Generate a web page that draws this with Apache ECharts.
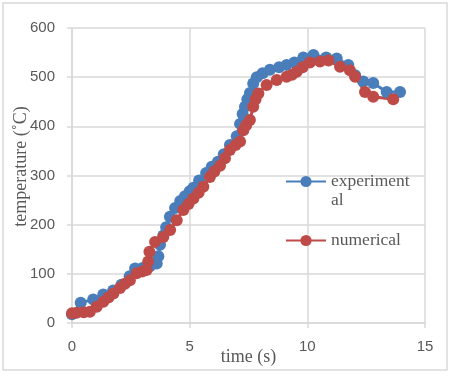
<!DOCTYPE html>
<html>
<head>
<meta charset="utf-8">
<script src="https://cdn.jsdelivr.net/npm/echarts@6/dist/echarts.min.js"></script>
<style>
  html, body { margin: 0; padding: 0; background: #fff; }
  #chart { width: 454px; height: 378px; }
</style>
</head>
<body>
<div id="chart"></div>
<script>
  /** Data */
  var experimentalPoints = [
    [0, 18], [0.37, 41], [0.9, 48], [1.33, 58], [1.75, 66], [2.1, 78], [2.45, 95], [2.68, 111],
    [3.0, 112], [3.3, 115], [3.6, 121], [3.67, 136], [3.74, 159], [3.88, 178], [4.0, 195],
    [4.16, 216], [4.38, 234], [4.6, 248], [4.8, 258], [5.0, 268], [5.16, 275], [5.4, 290],
    [5.7, 305], [5.94, 318], [6.2, 328], [6.45, 343], [6.71, 362], [7.0, 380], [7.14, 405],
    [7.25, 425], [7.35, 440], [7.45, 455], [7.56, 468], [7.7, 487], [7.85, 500], [8.1, 508],
    [8.41, 515], [8.8, 520], [9.12, 525], [9.45, 530], [9.83, 540], [10.26, 545], [10.8, 540],
    [11.25, 538], [11.74, 525], [12.03, 504], [12.38, 491], [12.8, 488], [13.37, 470], [13.94, 470]
  ];
  var numericalPoints = [
    [0, 20], [0.2, 21], [0.5, 22], [0.76, 23], [1.05, 33], [1.33, 43], [1.55, 52], [1.76, 60],
    [2.04, 71], [2.25, 80], [2.46, 87], [2.75, 101], [3.0, 105], [3.17, 108], [3.24, 125],
    [3.29, 145], [3.53, 165], [3.88, 175], [4.17, 189], [4.45, 209], [4.73, 230], [4.95, 242],
    [5.16, 253], [5.38, 265], [5.58, 277], [5.86, 297], [6.05, 308], [6.29, 320], [6.5, 335],
    [6.71, 352], [6.95, 362], [7.14, 369], [7.28, 392], [7.4, 402], [7.56, 413], [7.7, 440],
    [7.8, 455], [7.92, 467], [8.27, 484], [8.7, 494], [9.12, 501], [9.35, 505], [9.55, 511],
    [9.8, 520], [10.11, 530], [10.54, 532], [10.9, 534], [11.39, 521], [11.81, 514],
    [12.03, 501], [12.45, 470], [12.8, 460], [13.65, 455]
  ];
  var seriesNames = ['experimental', 'numerical'];
  var xTitle = 'time (s)';
  var yTitle = 'temperature (˚C)';

  var grey = '#d9d9d9';
  var textGrey = '#595959';
  var serif = '"Liberation Serif", "DejaVu Serif", serif';
  var sans = '"Liberation Sans", Arial, sans-serif';

  var option = {
    animation: false,
    grid: { left: 72, right: 29, top: 28, bottom: 55, outerBoundsMode: 'none' },
    graphic: [{
      type: 'rect',
      shape: { x: 3, y: 3, width: 444, height: 367 },
      style: { fill: 'none', stroke: grey, lineWidth: 1.5 },
      silent: true
    }],
    legend: {
      orient: 'vertical',
      left: 280,
      top: 148,
      itemWidth: 40,
      itemHeight: 14,
      itemGap: 21,
      data: seriesNames,
      formatter: function(name) {
        // blank first line keeps "experiment" level with the icon, like the wrapped label
        return name === 'experimental' ? '\u00a0\nexperiment\nal' : name;
      },
      textStyle: { fontFamily: serif, fontSize: 17.5, color: textGrey, lineHeight: 19 }
    },
    xAxis: {
      type: 'value',
      min: 0, max: 15, interval: 5,
      name: xTitle,
      nameLocation: 'middle',
      nameGap: 25,
      nameMoveOverlap: false,
      nameTextStyle: { fontFamily: serif, fontSize: 18, color: textGrey },
      axisLine: { show: true, lineStyle: { color: grey, width: 1.5 } },
      axisTick: { show: true, length: 5, lineStyle: { color: grey, width: 1.5 } },
      axisLabel: { fontFamily: sans, fontSize: 15, color: textGrey, margin: 16 },
      splitLine: { show: true, lineStyle: { color: grey, width: 1.5 } }
    },
    yAxis: {
      type: 'value',
      min: 0, max: 600, interval: 100,
      name: yTitle,
      nameLocation: 'middle',
      nameGap: 42,
      nameMoveOverlap: false,
      nameTextStyle: { fontFamily: serif, fontSize: 18, color: textGrey, padding: [0, 0, 0, 18] },
      axisLine: { show: true, lineStyle: { color: grey, width: 1.5 } },
      axisTick: { show: true, length: 5, lineStyle: { color: grey, width: 1.5 } },
      axisLabel: { fontFamily: sans, fontSize: 15, color: textGrey, margin: 17 },
      splitLine: { show: true, lineStyle: { color: grey, width: 1.5 } }
    },
    series: [
      {
        name: seriesNames[0],
        type: 'line',
        data: experimentalPoints,
        symbol: 'circle',
        symbolSize: 12,
        itemStyle: { color: '#4a7ebb' },
        lineStyle: { color: '#4a7ebb', width: 3 }
      },
      {
        name: seriesNames[1],
        type: 'line',
        data: numericalPoints,
        symbol: 'circle',
        symbolSize: 12,
        itemStyle: { color: '#be4b48' },
        lineStyle: { color: '#be4b48', width: 3 }
      }
    ]
  };

  echarts.init(document.getElementById('chart')).setOption(option);
</script>
</body>
</html>
